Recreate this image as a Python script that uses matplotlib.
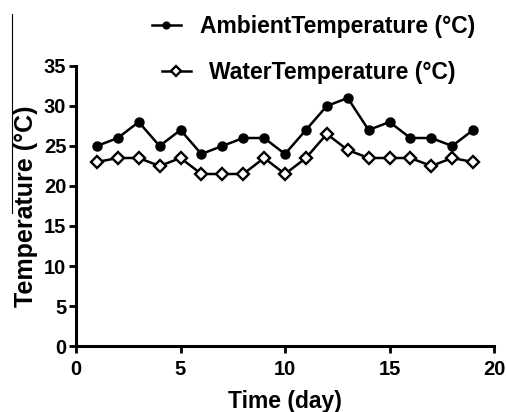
import matplotlib
matplotlib.use("Agg")
import matplotlib.pyplot as plt
from matplotlib.lines import Line2D

plt.rcParams['font.family'] = ['Liberation Sans', 'DejaVu Sans']
plt.rcParams['font.weight'] = 'bold'

days = list(range(1, 20))
ambient = [25, 26, 28, 25, 27, 24, 25, 26, 26, 24, 27, 30, 31, 27, 28, 26, 26, 25, 27]
water = [23, 23.5, 23.5, 22.5, 23.5, 21.5, 21.5, 21.5, 23.5, 21.5, 23.5, 26.5, 24.5, 23.5, 23.5, 23.5, 22.5, 23.5, 23]

fig = plt.figure(figsize=(5.07, 4.12), dpi=100)
ax = fig.add_axes([76 / 507, 1 - 346 / 412, 418 / 507, 280 / 412])

l1, = ax.plot(days, ambient, color='black', lw=1.8, marker='o', ms=6.5, clip_on=False)
l2, = ax.plot(days, water, color='black', lw=1.8, marker='D', ms=6.5, mfc='white', mec='black', mew=1.7, clip_on=False)

ax.set_xlim(0, 20)
ax.set_ylim(0, 35)
ax.set_xticks([0, 5, 10, 15, 20])
ax.set_yticks(range(0, 36, 5))
for s in ['top', 'right']:
    ax.spines[s].set_visible(False)
for s in ['left', 'bottom']:
    ax.spines[s].set_linewidth(2.2)
ax.tick_params(width=2, length=5, labelsize=14.5, pad=2)
ax.tick_params(axis='x', pad=5)
ax.set_xlabel("Time (day)", fontsize=16.5, fontweight='bold', labelpad=8)
ax.set_ylabel("Temperature (°C)", fontsize=18, fontweight='bold', labelpad=4)

leg_font = {'size': 16.5, 'weight': 'bold'}
leg1 = ax.legend([l1], ["AmbientTemperature (°C)"], loc='center left', frameon=False,
                 bbox_to_anchor=(152 / 507, 1 - 27 / 412), bbox_transform=fig.transFigure,
                 prop=leg_font, handlelength=1.25, handletextpad=0.85, markerscale=0.75,
                 borderaxespad=0, borderpad=0)
ax.add_artist(leg1)
ax.legend([l2], ["WaterTemperature (°C)"], loc='center left', frameon=False,
          bbox_to_anchor=(162 / 507, 1 - 73 / 412), bbox_transform=fig.transFigure,
          prop=leg_font, handlelength=1.25, handletextpad=0.8, markerscale=0.8,
          borderaxespad=0, borderpad=0)

# thin vertical line at the left edge of the original image
fig.add_artist(Line2D([12 / 507, 12 / 507], [1 - 14 / 412, 1 - 213 / 412],
                      transform=fig.transFigure, color='black', lw=0.8))

fig.savefig("out.png", dpi=100)
